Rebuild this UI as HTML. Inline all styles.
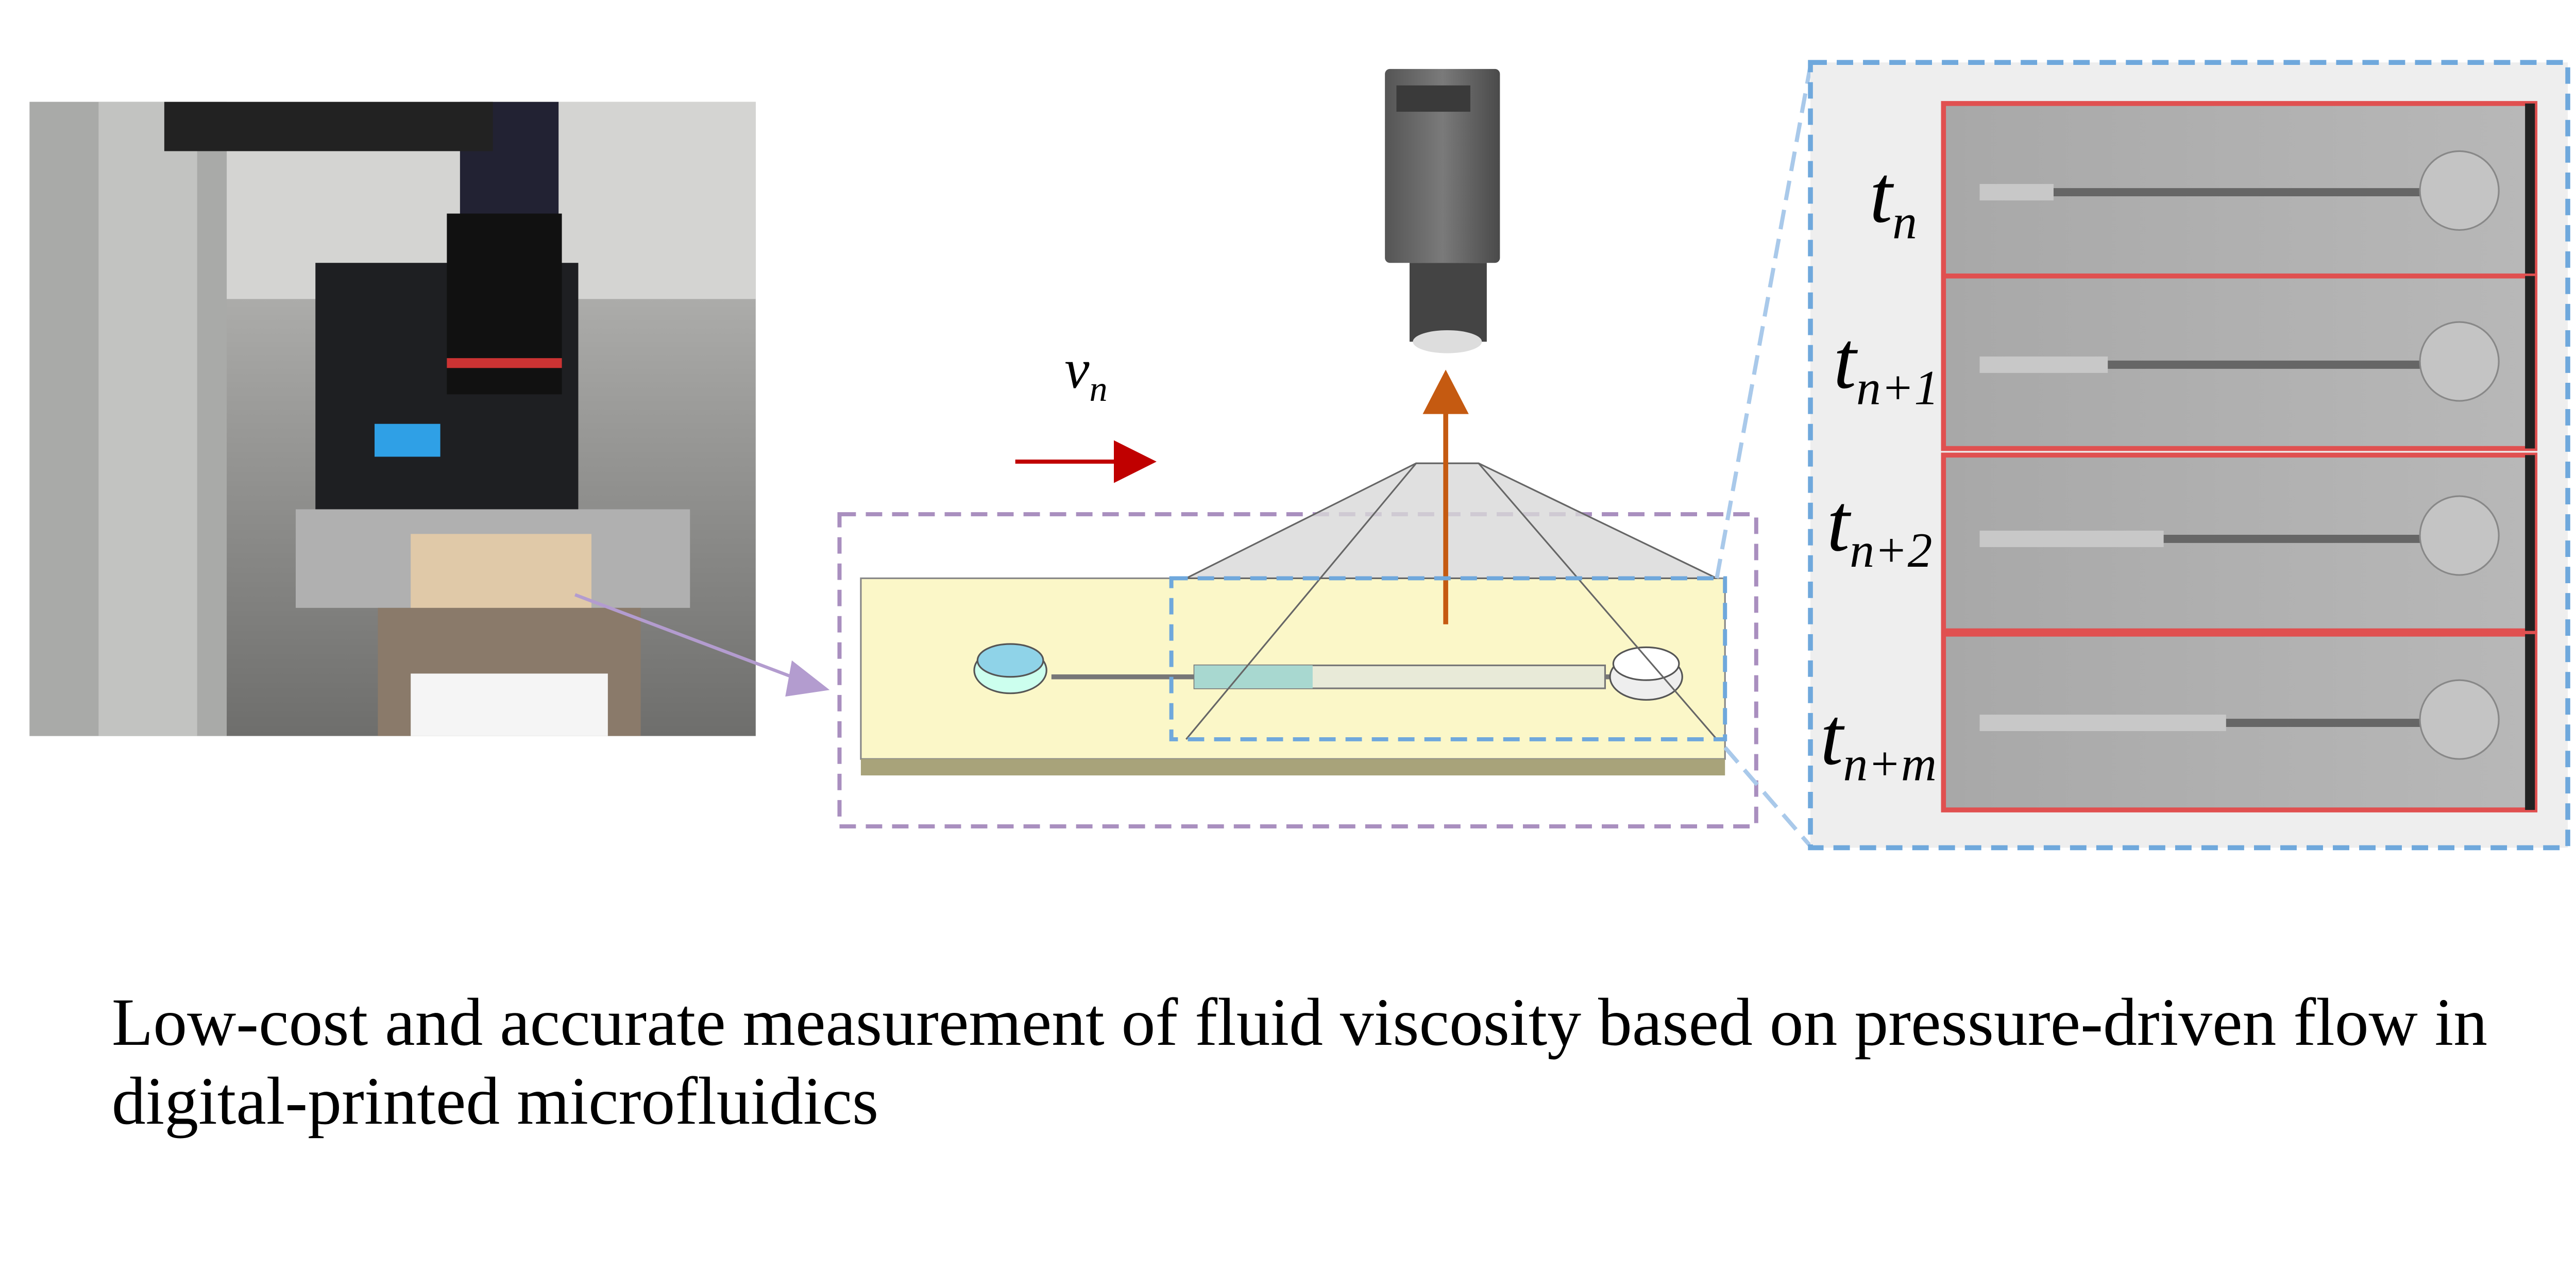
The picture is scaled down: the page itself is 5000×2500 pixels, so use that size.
<!DOCTYPE html>
<html><head><meta charset="utf-8"><style>
html,body{margin:0;padding:0;background:#fff;}
svg{display:block;}
text{font-family:"Liberation Serif",serif;}
</style></head><body>
<svg width="5000" height="2500" viewBox="0 0 1568 784" xmlns="http://www.w3.org/2000/svg">
<defs>
<linearGradient id="pg" x1="0" y1="0" x2="0" y2="1"><stop offset="0" stop-color="#c9c9c7"/><stop offset="0.5" stop-color="#9a9a98"/><stop offset="1" stop-color="#6e6e6c"/></linearGradient>
<linearGradient id="cam" x1="0" y1="0" x2="1" y2="0"><stop offset="0" stop-color="#555"/><stop offset="0.5" stop-color="#7a7a7a"/><stop offset="1" stop-color="#4a4a4a"/></linearGradient>
<linearGradient id="img" x1="0" y1="0" x2="1" y2="0"><stop offset="0" stop-color="#a8a8a8"/><stop offset="1" stop-color="#b8b8b8"/></linearGradient>
</defs>
<g>
<rect x="18" y="62" width="442" height="386" fill="url(#pg)"/>
<rect x="18" y="62" width="442" height="120" fill="#d4d4d2"/>
<rect x="18" y="62" width="120" height="386" fill="#a9aaa8"/>
<rect x="60" y="62" width="60" height="386" fill="#c2c3c1"/>
<rect x="192" y="160" width="160" height="150" fill="#1e1f22"/>
<rect x="228" y="258" width="40" height="20" fill="#2fa0e6"/>
<rect x="280" y="62" width="60" height="70" fill="#223"/>
<rect x="272" y="130" width="70" height="110" fill="#111"/>
<rect x="272" y="218" width="70" height="6" fill="#c33"/>
<rect x="100" y="62" width="200" height="30" fill="#222"/>
<rect x="180" y="310" width="240" height="60" fill="#b0b0b0"/>
<rect x="250" y="325" width="110" height="70" fill="#e0c9a8"/>
<rect x="230" y="370" width="160" height="78" fill="#8a7a6a"/>
<rect x="250" y="410" width="120" height="38" fill="#f5f5f5"/>
</g>
<line x1="350" y1="362" x2="490" y2="415" stroke="#b39ccf" stroke-width="2"/>
<polygon points="505,420 482,402 478,424" fill="#b39ccf"/>
<g>
<rect x="843" y="42" width="70" height="118" rx="3" fill="url(#cam)"/>
<rect x="850" y="52" width="45" height="16" fill="#3a3a3a"/>
<rect x="858" y="160" width="47" height="48" fill="#444"/>
<ellipse cx="881" cy="208" rx="21" ry="7" fill="#ddd"/>
</g>
<text x="648" y="236" font-size="34" font-style="italic">v<tspan font-size="22" dy="8">n</tspan></text>
<line x1="618" y1="281" x2="680" y2="281" stroke="#c00000" stroke-width="2.5"/>
<polygon points="704,281 678,268 678,294" fill="#c00000"/>
<rect x="511" y="313" width="558" height="190" fill="none" stroke="#a98fbf" stroke-width="2.5" stroke-dasharray="10,6"/>
<g>
<rect x="524" y="352" width="526" height="110" fill="#fbf7c8" stroke="#888" stroke-width="1"/>
<rect x="524" y="462" width="526" height="10" fill="#a8a37a"/>
<line x1="640" y1="412" x2="980" y2="412" stroke="#777" stroke-width="3"/>
<rect x="727" y="405" width="250" height="14" fill="#e8ead8" stroke="#777"/>
<rect x="727" y="405" width="72" height="14" fill="#a8d8d0"/>
<ellipse cx="615" cy="408" rx="22" ry="14" fill="#cfe" stroke="#555"/>
<ellipse cx="615" cy="402" rx="20" ry="10" fill="#8fd3e8" stroke="#555"/>
<ellipse cx="1002" cy="412" rx="22" ry="14" fill="#eee" stroke="#555"/>
<ellipse cx="1002" cy="404" rx="20" ry="10" fill="#fff" stroke="#555"/>
</g>
<polygon points="862,282 900,282 1045,352 722,352" fill="#d8d8d8" fill-opacity="0.8" stroke="#666" stroke-width="1"/>
<line x1="862" y1="282" x2="722" y2="450" stroke="#666" stroke-width="1"/>
<line x1="900" y1="282" x2="1045" y2="450" stroke="#666" stroke-width="1"/>
<line x1="880" y1="380" x2="880" y2="250" stroke="#c55a11" stroke-width="3"/>
<polygon points="880,225 866,252 894,252" fill="#c55a11"/>
<rect x="713" y="352" width="337" height="98" fill="none" stroke="#6fa8dc" stroke-width="2.5" stroke-dasharray="10,6"/>
<line x1="1045" y1="352" x2="1102" y2="40" stroke="#a9c9ea" stroke-width="2.5" stroke-dasharray="12,6"/>
<line x1="1050" y1="455" x2="1102" y2="515" stroke="#a9c9ea" stroke-width="2.5" stroke-dasharray="12,6"/>
<rect x="1102" y="38" width="461" height="478" fill="#eeeeee" stroke="#6fa8dc" stroke-width="3" stroke-dasharray="10,6"/>
<g>
<rect x="1183" y="63" width="360" height="105" fill="url(#img)" stroke="#e05050" stroke-width="3"/>
<line x1="1205" y1="117" x2="1480" y2="117" stroke="#666" stroke-width="5"/><rect x="1205" y="112" width="45" height="10" fill="#c8c8c8"/>
<circle cx="1497" cy="116" r="24" fill="#c4c4c4" stroke="#888"/><rect x="1537" y="63" width="6" height="105" fill="#222"/>
</g>
<g>
<rect x="1183" y="168" width="360" height="105" fill="url(#img)" stroke="#e05050" stroke-width="3"/>
<line x1="1205" y1="222" x2="1480" y2="222" stroke="#666" stroke-width="5"/><rect x="1205" y="217" width="78" height="10" fill="#c8c8c8"/>
<circle cx="1497" cy="220" r="24" fill="#c4c4c4" stroke="#888"/><rect x="1537" y="168" width="6" height="105" fill="#222"/>
</g>
<g>
<rect x="1183" y="277" width="360" height="107" fill="url(#img)" stroke="#e05050" stroke-width="3"/>
<line x1="1205" y1="328" x2="1480" y2="328" stroke="#666" stroke-width="5"/><rect x="1205" y="323" width="112" height="10" fill="#c8c8c8"/>
<circle cx="1497" cy="326" r="24" fill="#c4c4c4" stroke="#888"/><rect x="1537" y="277" width="6" height="107" fill="#222"/>
</g>
<g>
<rect x="1183" y="386" width="360" height="107" fill="url(#img)" stroke="#e05050" stroke-width="3"/>
<line x1="1205" y1="440" x2="1480" y2="440" stroke="#666" stroke-width="5"/><rect x="1205" y="435" width="150" height="10" fill="#c8c8c8"/>
<circle cx="1497" cy="438" r="24" fill="#c4c4c4" stroke="#888"/><rect x="1537" y="386" width="6" height="107" fill="#222"/>
</g>
<g font-style="italic">
<text x="1138" y="135" font-size="50">t<tspan font-size="30" dy="10">n</tspan></text>
<text x="1116" y="236" font-size="50">t<tspan font-size="30" dy="10">n+1</tspan></text>
<text x="1112" y="335" font-size="50">t<tspan font-size="30" dy="10">n+2</tspan></text>
<text x="1108" y="465" font-size="50">t<tspan font-size="30" dy="10">n+m</tspan></text>
</g>
<text x="68" y="636" font-size="41.3">Low-cost and accurate measurement of fluid viscosity based on pressure-driven flow in</text>
<text x="68" y="684" font-size="41.3">digital-printed microfluidics</text>
</svg>
</body></html>
